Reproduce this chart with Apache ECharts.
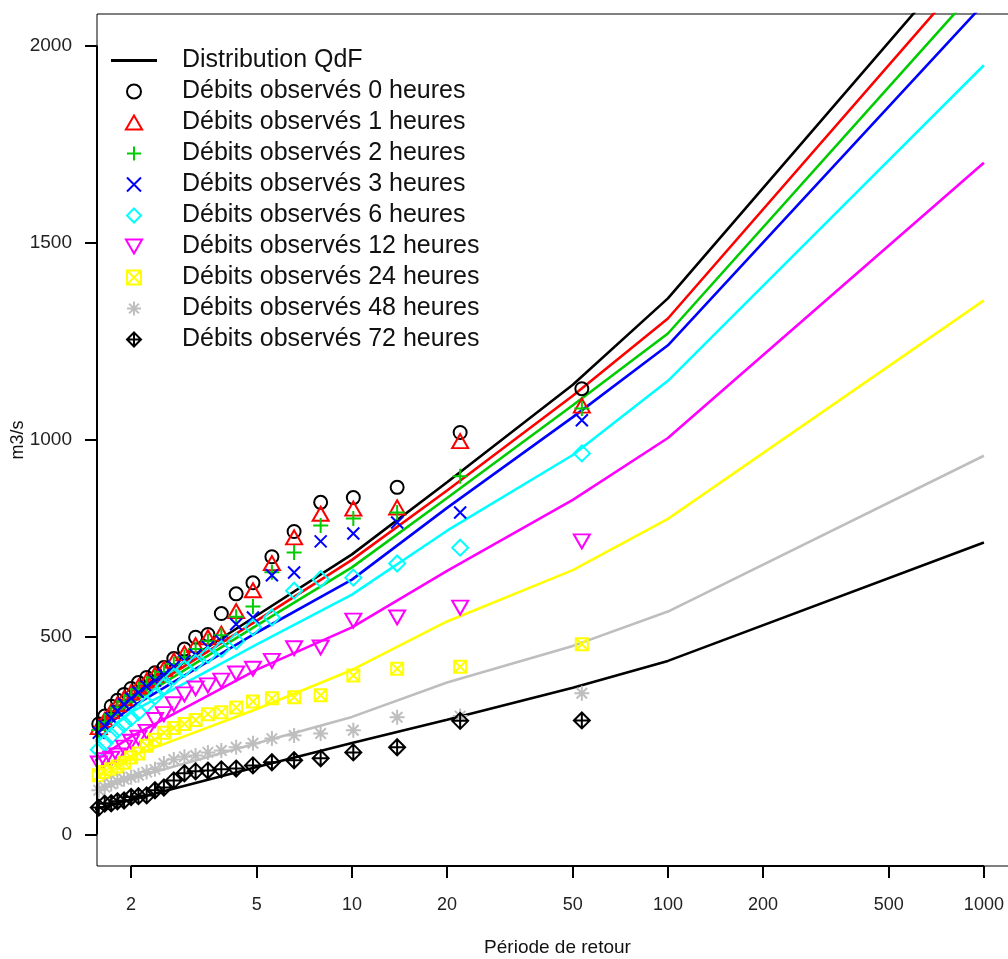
<!DOCTYPE html>
<html>
<head>
<meta charset="utf-8">
<script src="https://cdn.jsdelivr.net/npm/echarts@6/dist/echarts.min.js"></script>
<style>html,body{margin:0;padding:0;background:#fff}#c{width:1008px;height:959px}</style>
</head>
<body>
<div id="c"></div>
<script>
// ---------------- data ----------------
const durations = ['0', '1', '2', '3', '6', '12', '24', '48', '72'];
const colors = ['#000000', '#ff0000', '#00cd00', '#0000ff', '#00ffff', '#ff00ff', '#ffff00', '#bebebe', '#000000'];

const xTickValues = [2, 5, 10, 20, 50, 100, 200, 500, 1000];
const yTickValues = [0, 500, 1000, 1500, 2000];

// QdF curves (return period -> m3/s)
const qdfPeriods = [1.5, 2, 5, 10, 20, 50, 100, 1000];
const qdf0h  = [267, 350, 555, 710, 893, 1140, 1359, 2288];
const qdf1h  = [262, 342, 542, 696, 872, 1112, 1308, 2227];
const qdf2h  = [256, 333, 530, 677, 853, 1088, 1270, 2164];
const qdf3h  = [249, 322, 512, 646, 828, 1058, 1240, 2106];
const qdf6h  = [230, 310, 482, 608, 770, 962, 1150, 1950];
const qdf12h = [182, 248, 418, 525, 668, 848, 1005, 1703];
const qdf24h = [160, 198, 318, 417, 540, 670, 800, 1354];
const qdf48h = [114, 142, 231, 298, 385, 478, 565, 960];
const qdf72h = [62, 88, 171, 232, 291, 372, 440, 740];

// observed flows (plotting positions shared by all durations)
const obsPeriods = [53.4, 22.0, 13.9, 10.1, 7.96, 6.56, 5.58, 4.86, 4.30, 3.86, 3.50, 3.20, 2.95,
                    2.73, 2.54, 2.38, 2.24, 2.11, 2.00, 1.90, 1.81, 1.73, 1.65, 1.58, 1.52];
const obs0h  = [1130, 1019, 880, 854, 842, 768, 704, 638, 610, 560, 507, 500, 470, 446, 423, 410, 398, 385, 370, 355, 340, 325, 300, 280, 265];
const obs1h  = [1087, 997, 829, 826, 813, 753, 688, 619, 566, 509, 500, 480, 459, 441, 420, 405, 390, 375, 360, 345, 330, 312, 290, 272, 255];
const obs2h  = [1080, 908, 816, 801, 783, 715, 665, 578, 552, 505, 490, 470, 450, 432, 412, 398, 382, 368, 352, 337, 322, 305, 285, 265, 250];
const obs3h  = [1050, 816, 791, 763, 743, 664, 657, 550, 533, 490, 475, 455, 440, 425, 405, 390, 375, 360, 345, 330, 313, 295, 275, 258, 242];
const obs6h  = [966, 727, 687, 651, 647, 618, 550, 525, 490, 470, 455, 435, 420, 400, 375, 350, 330, 310, 295, 280, 265, 250, 232, 215, 200];
const obs12h = [743, 575, 550, 542, 474, 472, 440, 420, 408, 390, 378, 370, 355, 330, 305, 290, 260, 245, 235, 220, 200, 192, 188, 180, 170];
const obs24h = [482, 425, 420, 403, 353, 348, 345, 337, 322, 310, 305, 290, 280, 270, 258, 240, 225, 205, 195, 182, 172, 165, 158, 150, 145];
const obs48h = [358, 300, 297, 264, 256, 251, 243, 231, 221, 213, 208, 200, 197, 190, 180, 165, 158, 150, 145, 140, 135, 128, 120, 112, 105];
const obs72h = [289, 288, 221, 208, 193, 188, 183, 175, 167, 165, 162, 160, 155, 137, 119, 112, 99, 97, 95, 86, 84, 79, 78, 68, 65];

const qdfAll = [qdf0h, qdf1h, qdf2h, qdf3h, qdf6h, qdf12h, qdf24h, qdf48h, qdf72h];
const obsAll = [obs0h, obs1h, obs2h, obs3h, obs6h, obs12h, obs24h, obs48h, obs72h];

// ---------------- styles ----------------
const FONT = 'Liberation Sans, Arial, sans-serif';
const symbols = [
  {symbol: 'circle', size: 13},
  {symbol: 'path://M5 0L10 8.66L0 8.66Z', size: [16, 14]},
  {symbol: 'path://M0 5L10 5M5 0L5 10', size: 15},
  {symbol: 'path://M0 0L10 10M10 0L0 10', size: 12},
  {symbol: 'path://M5 0L10 5L5 10L0 5Z', size: 16},
  {symbol: 'path://M0 0L10 0L5 8.66Z', size: [16, 14]},
  {symbol: 'path://M0 0L10 0L10 10L0 10ZM0 0L10 10M10 0L0 10', size: 12},
  {symbol: 'path://M0 5L10 5M5 0L5 10M1.5 1.5L8.5 8.5M8.5 1.5L1.5 8.5', size: 15},
  {symbol: 'path://M5 0L10 5L5 10L0 5ZM0 5L10 5M5 0L5 10', size: 16}
];

const lg = Math.log10;
const xLo = lg(xTickValues[0]), xHi = lg(xTickValues[xTickValues.length - 1]);
const xMin = xLo - 0.04 * (xHi - xLo), xMax = xHi + 0.04 * (xHi - xLo);
const yLo = 0, yHi = 2000;
const yMin = yLo - 0.04 * (yHi - yLo), yMax = yHi + 0.04 * (yHi - yLo);

const series = [];
durations.forEach((d, k) => {
  series.push({
    name: k === 0 ? 'Distribution QdF' : 'QdF ' + d + ' heures',
    type: 'line',
    data: qdfPeriods.map((t, i) => [lg(t), qdfAll[k][i]]),
    symbol: 'none',
    lineStyle: {color: colors[k], width: 2.6},
    itemStyle: {color: colors[k]},
    clip: true,
    silent: true,
    z: 2
  });
});
durations.forEach((d, k) => {
  series.push({
    name: 'Débits observés ' + d + ' heures',
    type: 'scatter',
    data: obsPeriods.map((t, i) => [lg(t), obsAll[k][i]]),
    symbol: symbols[k].symbol,
    symbolSize: symbols[k].size,
    itemStyle: {color: 'rgba(0,0,0,0)', borderColor: colors[k], borderWidth: 2, opacity: 1},
    clip: true,
    silent: true,
    z: 3
  });
});
// R-style axis segments spanning first to last tick
series.push({
  name: 'axeX', type: 'line', silent: true, symbol: 'none', clip: false, z: 5,
  data: [[xLo, yMin], [xHi, yMin]], lineStyle: {color: '#000', width: 2}
});
series.push({
  name: 'axeY', type: 'line', silent: true, symbol: 'none', clip: false, z: 5,
  data: [[xMin, yLo], [xMin, yHi]], lineStyle: {color: '#000', width: 2}
});

const legendData = [{name: 'Distribution QdF', icon: 'path://M0 0L46 0L46 3L0 3Z'}]
  .concat(durations.map(d => 'Débits observés ' + d + ' heures'));

const option = {
  animation: false,
  backgroundColor: '#fff',
  grid: {left: 97, top: 14, right: -10, bottom: 93, show: true, borderColor: '#000', borderWidth: 1,
         backgroundColor: 'rgba(0,0,0,0)', containLabel: false, outerBoundsMode: 'none'},
  legend: {
    orient: 'vertical', left: 111, top: 45, padding: 0,
    itemWidth: 46, itemHeight: 14, itemGap: 0,
    selectedMode: false,
    textStyle: {fontFamily: FONT, fontSize: 25, color: '#111', lineHeight: 31, padding: [0, 0, 0, 20]},
    data: legendData
  },
  xAxis: {
    type: 'value', min: xMin, max: xMax,
    name: 'Période de retour', nameLocation: 'middle', nameGap: 72, nameMoveOverlap: false,
    nameTextStyle: {fontFamily: FONT, fontSize: 19, color: '#111'},
    axisLine: {show: false, onZero: false},
    splitLine: {show: false},
    axisTick: {show: true, length: 12, inside: false, customValues: xTickValues.map(lg),
               lineStyle: {color: '#000', width: 2}},
    axisLabel: {customValues: xTickValues.map(lg), margin: 30, fontFamily: FONT, fontSize: 18, color: '#222',
                formatter: v => String(Math.round(Math.pow(10, v)))}
  },
  yAxis: {
    type: 'value', min: yMin, max: yMax,
    name: 'm3/s', nameLocation: 'middle', nameGap: 70, nameRotate: 90, nameMoveOverlap: false,
    nameTextStyle: {fontFamily: FONT, fontSize: 18, color: '#111'},
    axisLine: {show: false, onZero: false},
    splitLine: {show: false},
    axisTick: {show: true, length: 12, inside: false, customValues: yTickValues,
               lineStyle: {color: '#000', width: 2}},
    axisLabel: {customValues: yTickValues, margin: 25, fontFamily: FONT, fontSize: 19, color: '#222',
                formatter: v => String(v)}
  },
  series: series
};

const chart = echarts.init(document.getElementById('c'), null, {renderer: 'canvas'});
chart.setOption(option);
</script>
</body>
</html>
